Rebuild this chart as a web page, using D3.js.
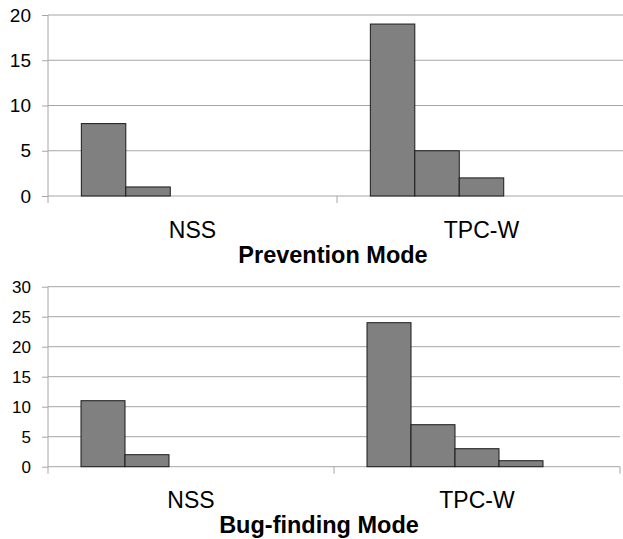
<!DOCTYPE html>
<html>
<head>
<meta charset="utf-8">
<script src="https://cdn.jsdelivr.net/npm/d3@7"></script>
<style>
  body { margin: 0; background: #fff; }
  svg { display: block; font-family: "Liberation Sans", Arial, sans-serif; }
</style>
</head>
<body>
<svg id="chart" width="623" height="539"></svg>
<script>
// data
const categories = ['NSS', 'TPC-W'];
const seriesKeys = ['s1', 's2', 's3', 's4', 's5'];
const preventionNSS = [8, 1, 0, 0, 0];
const preventionTPCW = [19, 5, 2, 0, 0];
const bugNSS = [11, 2, 0, 0, 0];
const bugTPCW = [24, 7, 3, 1, 0];
const preventionTicks = [0, 5, 10, 15, 20];
const bugTicks = [0, 5, 10, 15, 20, 25, 30];

const svg = d3.select('#chart');

// one panel = one excel-style clustered column chart
function panel(opts){
  const g = svg.append('g');
  const x = d3.scaleBand().domain(categories).range([opts.left, opts.right]).padding(0);
  const x1 = d3.scaleBand().domain(seriesKeys).range([0, x.bandwidth()])
    .paddingInner(0).paddingOuter(0.75);
  const y = d3.scaleLinear().domain([0, opts.max]).range([opts.bottom, opts.top]);

  //gridlines
  g.selectAll('.grid').data(opts.ticks.filter(t => t > 0)).enter()
    .append('line')
    .attr('x1', opts.left).attr('x2', opts.right)
    .attr('y1', d => y(d)).attr('y2', d => y(d))
    .attr('stroke', '#a6a6a6').attr('stroke-width', 1);

  // y axis
  const yAxis = d3.axisLeft(y).tickValues(opts.ticks).tickSize(6).tickPadding(11);
  const ya = g.append('g').attr('transform', `translate(${opts.left},0)`).call(yAxis);
  ya.select('.domain').remove();
  ya.selectAll('.tick line').attr('stroke', '#a6a6a6');
  ya.selectAll('.tick text').attr('font-size', opts.tickFont).attr('fill', '#000')
    .attr('font-family', '"Liberation Sans", Arial, sans-serif');
  g.append('line')
    .attr('x1', opts.left).attr('x2', opts.left)
    .attr('y1', opts.top).attr('y2', opts.bottom + 7)
    .attr('stroke', '#a6a6a6');

  // x axis baseline + category separators
  g.append('line')
    .attr('x1', opts.left).attr('x2', opts.right)
    .attr('y1', opts.bottom).attr('y2', opts.bottom)
    .attr('stroke', '#a6a6a6');
  g.selectAll('.sep').data(categories.map(c => x(c) + x.bandwidth()))
    .enter().append('line')
    .attr('x1', d => d).attr('x2', d => d)
    .attr('y1', opts.bottom).attr('y2', opts.bottom + 7)
    .attr('stroke', '#a6a6a6');

  // bars
  const groups = g.selectAll('.grp').data(categories).enter()
    .append('g').attr('transform', d => `translate(${x(d)},0)`);
  groups.selectAll('rect')
    .data(c => opts.values[c].map((v, i) => ({key: seriesKeys[i], v: v})).filter(d => d.v > 0))
    .enter().append('rect')
    .attr('x', d => x1(d.key))
    .attr('width', x1.bandwidth())
    .attr('y', d => y(d.v))
    .attr('height', d => opts.bottom - y(d.v))
    .attr('fill', '#808080')
    .attr('stroke', '#1a1a1a').attr('stroke-width', 1);

  // category labels
  g.selectAll('.cat').data(categories).enter()
    .append('text')
    .attr('x', d => x(d) + x.bandwidth() / 2)
    .attr('y', opts.catY)
    .attr('text-anchor', 'middle')
    .attr('font-size', 23)
    .text(d => d);

  // title
  g.append('text')
    .attr('x', opts.titleX).attr('y', opts.titleY)
    .attr('text-anchor', 'middle')
    .attr('font-size', 23.5).attr('font-weight', 'bold')
    .text(opts.title);
}

panel({
  left: 48, right: 626, top: 15, bottom: 196, max: 20,
  ticks: preventionTicks, tickFont: 19,
  values: {'NSS': preventionNSS, 'TPC-W': preventionTPCW},
  catY: 238, title: 'Prevention Mode', titleX: 333, titleY: 263
});

panel({
  left: 48, right: 620, top: 286.7, bottom: 466.7, max: 30,
  ticks: bugTicks, tickFont: 17,
  values: {'NSS': bugNSS, 'TPC-W': bugTPCW},
  catY: 508, title: 'Bug-finding Mode', titleX: 319, titleY: 533
});
</script>
</body>
</html>
